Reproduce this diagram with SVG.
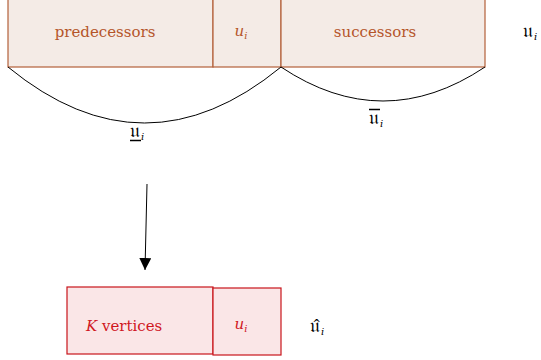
<svg xmlns="http://www.w3.org/2000/svg" width="541" height="360" viewBox="0 0 541 360">
<defs>
<style>
.tb{fill:#f4ebe6;stroke:#b3603a;stroke-width:1.2}
.tt{fill:#b4552a;font-family:"DejaVu Serif",serif;font-size:15px}
.rb{fill:#fae6e7;stroke:#c8141c;stroke-width:1.2}
.rt{fill:#d0161e;font-family:"DejaVu Serif",serif;font-size:15px}
.bt{fill:#000;font-family:"DejaVu Serif",serif;font-size:20px}
.sub{font-size:10px;font-style:italic}
.arc{fill:none;stroke:#000;stroke-width:1}
</style>
<marker id="ah" viewBox="0 0 10 10" refX="10" refY="5" markerWidth="12" markerHeight="12" markerUnits="userSpaceOnUse" orient="auto">
<path d="M0,0 L10,5 L0,10 Z" fill="#000"/>
</marker>
</defs>
<g id="pred"><rect class="tb" x="8" y="-2" width="205" height="69"/><text class="tt" x="105" y="37" text-anchor="middle">predecessors</text></g>
<g id="ui-top"><rect class="tb" x="213" y="-2" width="68" height="69"/><text class="tt" x="241" y="36" text-anchor="middle"><tspan font-style="italic">u</tspan><tspan class="sub" dy="3">i</tspan></text></g>
<g id="succ"><rect class="tb" x="281" y="-2" width="204" height="69"/><text class="tt" x="375" y="37" text-anchor="middle">successors</text></g>
<g id="label-u"><text class="bt" x="523" y="37">𝔲<tspan class="sub" dx="1" dy="3">i</tspan></text></g>
<g id="kv"><rect class="rb" x="67" y="287" width="146" height="67"/><text class="rt" x="86" y="331"><tspan font-style="italic">K</tspan> vertices</text></g>
<g id="ui-bot"><rect class="rb" x="213" y="288" width="68" height="67"/><text class="rt" x="241" y="329" text-anchor="middle"><tspan font-style="italic">u</tspan><tspan class="sub" dy="3">i</tspan></text></g>
<g id="label-uhat"><text class="bt" x="310" y="332">𝔲̂<tspan class="sub" dx="1" dy="3">i</tspan></text></g>
<g id="connectors">
<path class="arc" d="M8,67 Q144.5,179 281,67"/>
<path class="arc" d="M281,67 Q383,135 485,67"/>
<line x1="147" y1="184" x2="145" y2="270" stroke="#000" stroke-width="1" marker-end="url(#ah)"/>
<text class="bt" x="130" y="137">𝔲<tspan class="sub" dx="1" dy="3">i</tspan></text>
<line x1="130" y1="140.5" x2="141" y2="140.5" stroke="#000" stroke-width="1.5"/>
<text class="bt" x="369" y="124">𝔲<tspan class="sub" dx="1" dy="3">i</tspan></text>
<line x1="369" y1="109.5" x2="380" y2="109.5" stroke="#000" stroke-width="1.5"/>
</g>
</svg>
